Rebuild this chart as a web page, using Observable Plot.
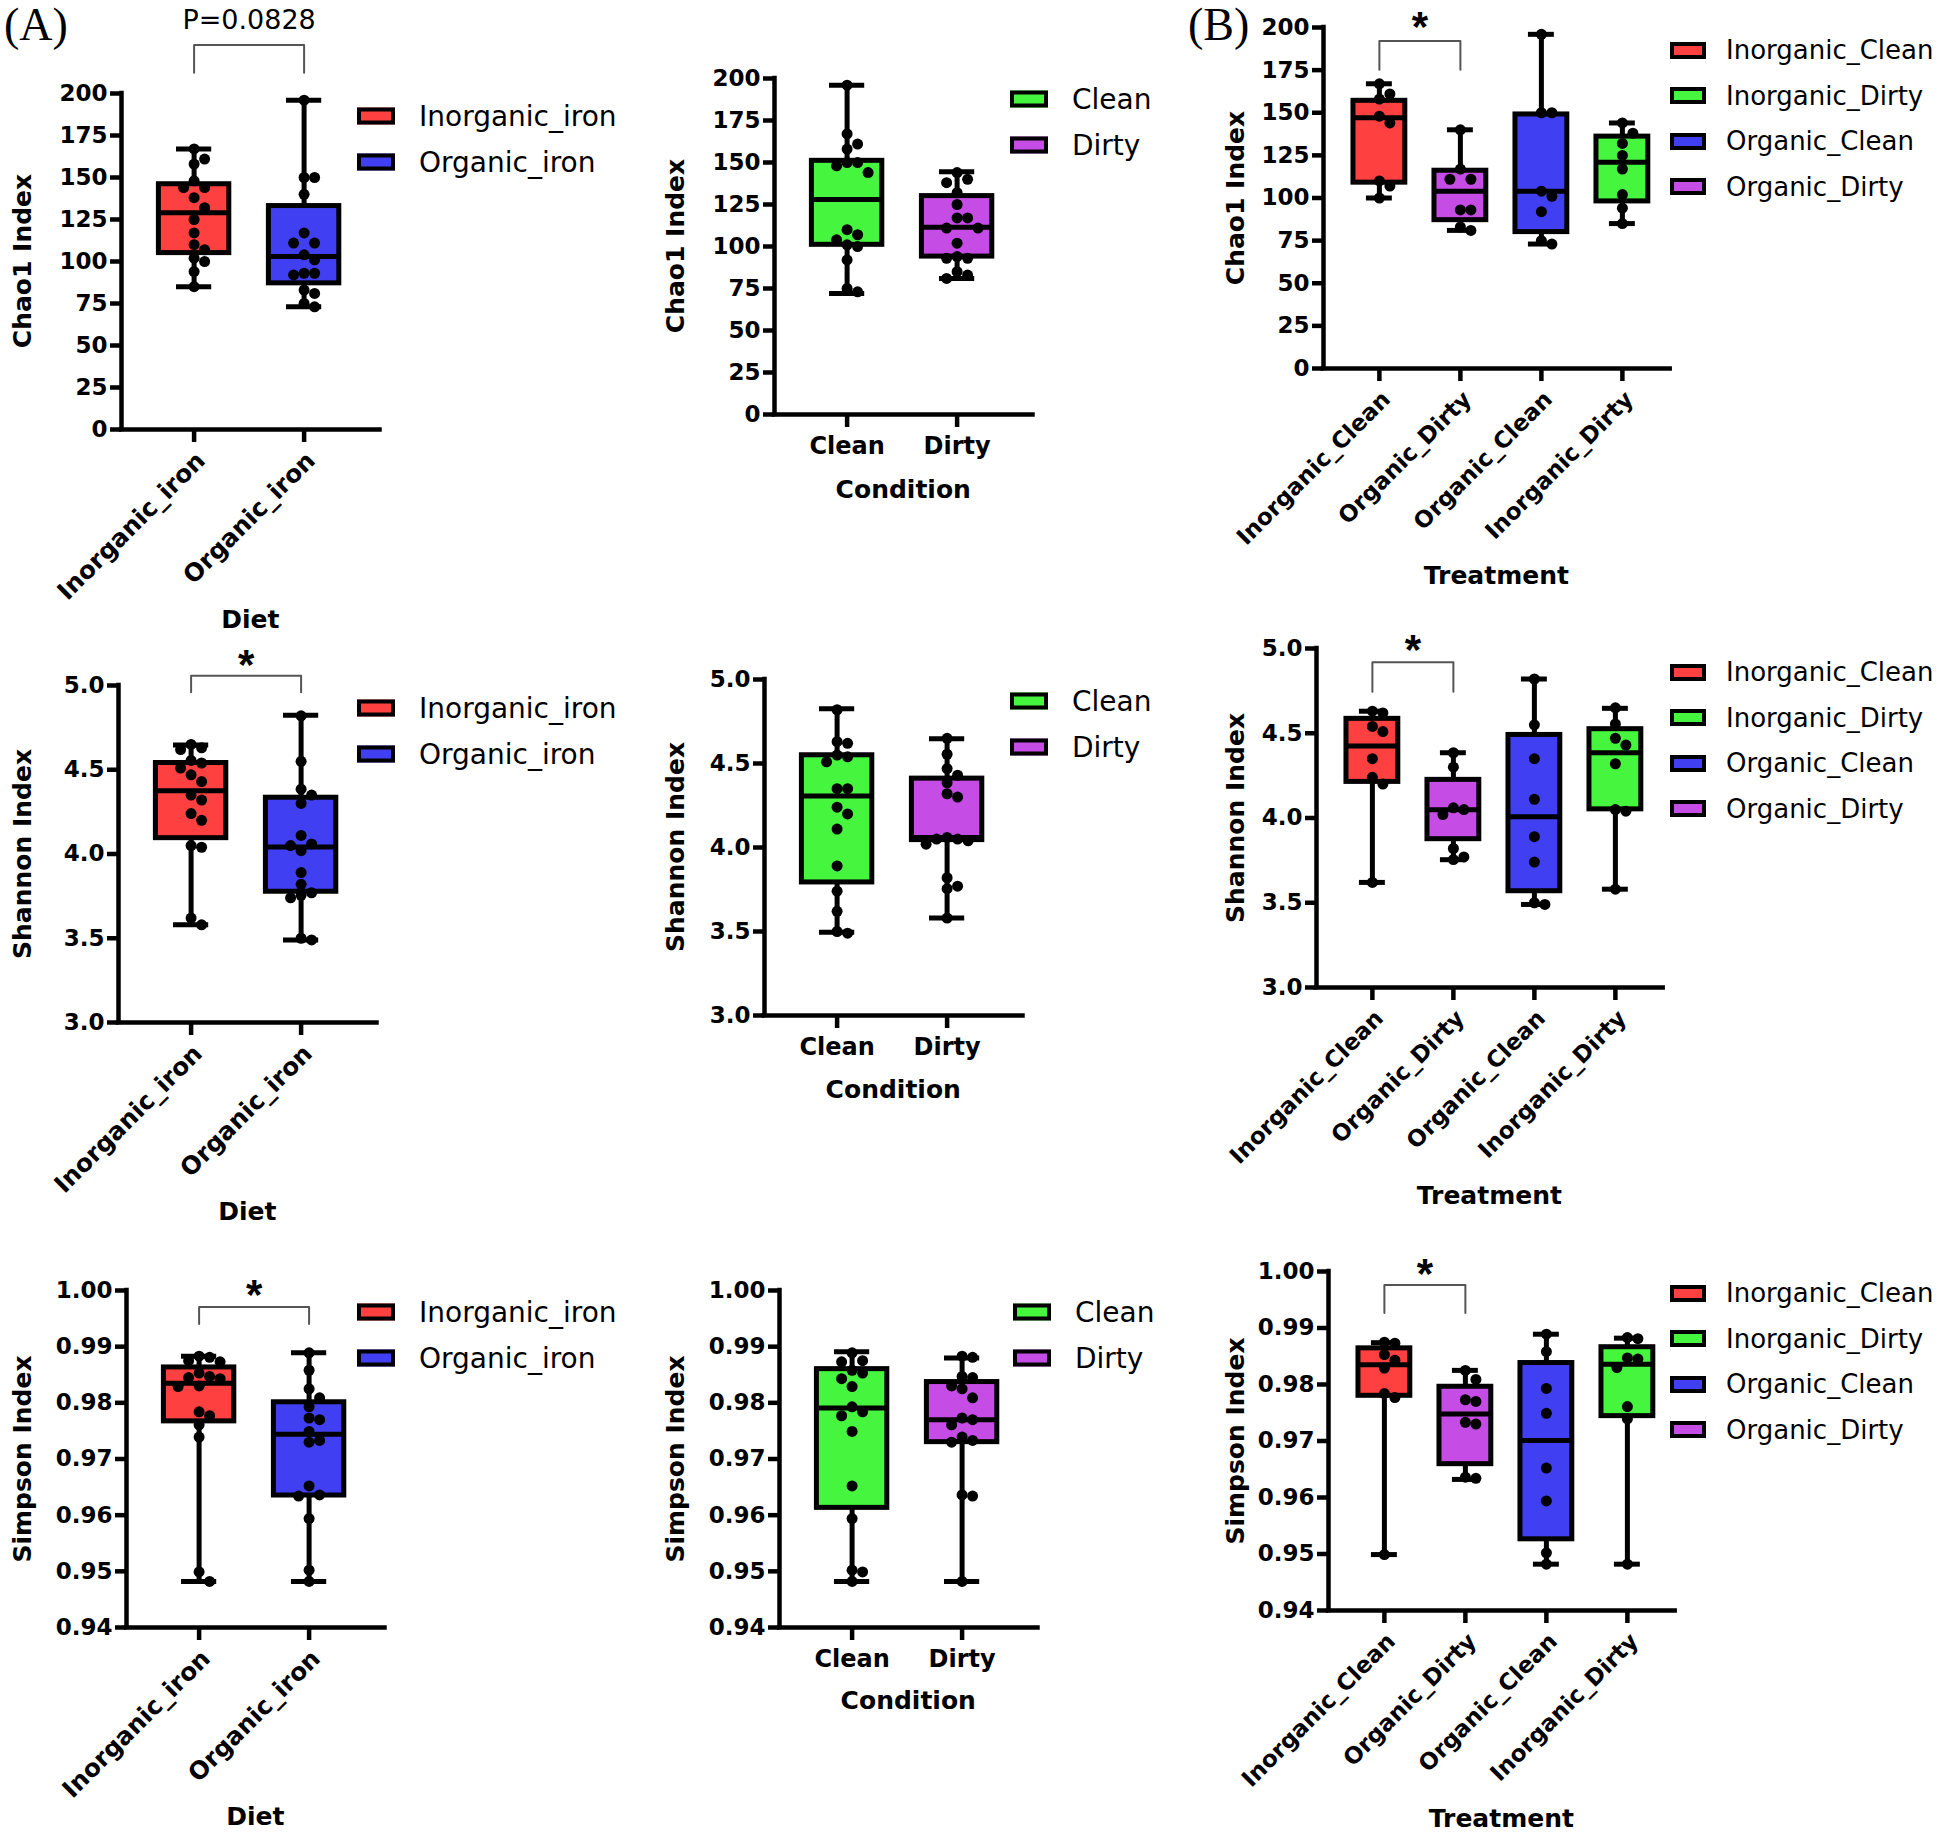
<!DOCTYPE html>
<html>
<head>
<meta charset="utf-8">
<script src="https://cdn.jsdelivr.net/npm/d3@7"></script>
<script src="https://cdn.jsdelivr.net/npm/@observablehq/plot@0.6"></script>
<style>
  body { margin: 0; background: #fff; }
  #fig { position: relative; width: 1950px; height: 1837px; overflow: hidden; background: #fff;
         font-family: "DejaVu Sans", "Liberation Sans", Arial, sans-serif; color: #000; }
  #fig svg { position: absolute; left: 0; top: 0; }
  .txt { position: absolute; white-space: nowrap; line-height: 1; }
  .ytitle { font-size: 25px; font-weight: bold; transform: translate(-50%, -50%) rotate(-90deg); }
  .xtitle { font-size: 25px; font-weight: bold; transform: translate(-50%, -50%); }
  .tag { font-family: "Liberation Serif", "Times New Roman", serif; font-size: 46px; }
  .leg { position: absolute; display: flex; align-items: center; transform: translateY(-50%); white-space: nowrap; }
  .sw { display: inline-block; height: 17px; border: 4px solid #000; box-sizing: border-box; }
</style>
</head>
<body>
<div id="fig"></div>
<script>
// ---- groups & colours ----
const dietGroups = ["Inorganic_iron", "Organic_iron"];
const conditionGroups = ["Clean", "Dirty"];
const treatmentGroups = ["Inorganic_Clean", "Organic_Dirty", "Organic_Clean", "Inorganic_Dirty"];
const treatmentLegend = ["Inorganic_Clean", "Inorganic_Dirty", "Organic_Clean", "Organic_Dirty"];
const groupColors = {
  Inorganic_iron: "#ff4040", Organic_iron: "#4040f2",
  Clean: "#46f53e", Dirty: "#c64ce6",
  Inorganic_Clean: "#ff4040", Inorganic_Dirty: "#46f53e",
  Organic_Clean: "#4040f2", Organic_Dirty: "#c64ce6"
};

// ---- axis ticks ----
const chao1Ticks = [0, 25, 50, 75, 100, 125, 150, 175, 200];
const shannonTicks = [3.0, 3.5, 4.0, 4.5, 5.0];
const simpsonTicks = [0.94, 0.95, 0.96, 0.97, 0.98, 0.99, 1.00];

// ---- per-sample values (eight animals per treatment) ----
const chao1InorgClean = [167, 161, 158, 148, 144, 110, 107, 100];
const chao1OrgDirty   = [140, 117, 111, 111, 93, 93, 83, 81];
const chao1OrgClean   = [196, 150, 150, 104, 101, 92, 75, 73];
const chao1InorgDirty = [144, 138, 132, 125, 117, 102, 94, 85];

const shannonInorgClean = [4.63, 4.62, 4.54, 4.51, 4.35, 4.24, 4.20, 3.62];
const shannonOrgDirty   = [4.385, 4.30, 4.06, 4.05, 4.02, 3.82, 3.77, 3.755];
const shannonOrgClean   = [4.82, 4.55, 4.35, 4.11, 3.89, 3.74, 3.50, 3.49];
const shannonInorgDirty = [4.65, 4.555, 4.47, 4.43, 4.32, 4.05, 4.04, 3.58];

const simpsonInorgClean = [0.9875, 0.9873, 0.9853, 0.9843, 0.9829, 0.9784, 0.9777, 0.9499];
const simpsonOrgDirty   = [0.9825, 0.9809, 0.9773, 0.9770, 0.9733, 0.9730, 0.9636, 0.9634];
const simpsonOrgClean   = [0.9889, 0.9858, 0.9793, 0.9749, 0.9652, 0.9594, 0.9502, 0.9482];
const simpsonInorgDirty = [0.9883, 0.9881, 0.9847, 0.9845, 0.9830, 0.9761, 0.9739, 0.9482];

// ---- box summaries: [min, Q1, median, Q3, max] ----
const chao1DietBoxes      = [[85, 105, 129, 146, 167], [73, 87, 103, 133, 196]];
const chao1ConditionBoxes = [[72, 101, 128, 151, 196], [81, 94, 111.5, 130, 144.5]];
const chao1TreatmentBoxes = [[100, 109, 147, 157, 167], [81, 87, 104, 116, 140], [73, 80, 104, 149, 196], [85, 98, 121, 136, 144]];

const shannonDietBoxes      = [[3.58, 4.094, 4.376, 4.54, 4.647], [3.49, 3.776, 4.042, 4.334, 4.824]];
const shannonConditionBoxes = [[3.495, 3.792, 4.307, 4.549, 4.826], [3.58, 4.044, 4.06, 4.41, 4.648]];
const shannonTreatmentBoxes = [[3.62, 4.213, 4.425, 4.585, 4.63], [3.754, 3.875, 4.049, 4.225, 4.385], [3.49, 3.568, 4.007, 4.49, 4.82], [3.58, 4.051, 4.385, 4.524, 4.647]];

const simpsonDietBoxes      = [[0.9482, 0.9767, 0.9835, 0.9863, 0.9883], [0.9482, 0.9635, 0.9744, 0.9801, 0.9889]];
const simpsonConditionBoxes = [[0.9482, 0.9613, 0.9791, 0.9860, 0.9891], [0.9482, 0.9730, 0.9770, 0.9837, 0.9880]];
const simpsonTreatmentBoxes = [[0.9499, 0.9780, 0.9835, 0.9864, 0.9874], [0.9632, 0.9659, 0.9748, 0.9796, 0.9825], [0.9482, 0.9526, 0.9701, 0.9838, 0.9889], [0.9482, 0.9744, 0.9836, 0.9866, 0.9882]];

// ---- significance annotations ----
const chao1DietTest = {label: "P=0.0828", star: false};
const starTest = {label: "*", star: true};

// ---- page layout ----
const fig = document.getElementById("fig");
const fontStack = '"DejaVu Sans", "Liberation Sans", Arial, sans-serif';

function addText(cls, text, x, y) {
  const el = document.createElement("div");
  el.className = "txt " + cls;
  el.textContent = text;
  el.style.left = x + "px";
  el.style.top = y + "px";
  fig.appendChild(el);
  return el;
}

// legend rows: swatch + name; the four-group legends run a little tighter
function addLegend(x, y, items) {
  const wide = items.length > 2;
  items.forEach((name, k) => {
    const row = document.createElement("div");
    row.className = "leg";
    row.style.left = x + "px";
    row.style.top = (y + k * 45.5) + "px";
    const sw = document.createElement("span");
    sw.className = "sw";
    sw.style.width = (wide ? 36 : 38) + "px";
    sw.style.marginRight = (wide ? 20 : 24) + "px";
    sw.style.background = groupColors[name];
    const lt = document.createElement("span");
    lt.style.fontSize = (wide ? 26 : 28) + "px";
    lt.textContent = name;
    row.append(sw, lt);
    fig.appendChild(row);
  });
}

// spread tied / close points sideways so each stays visible
function swarm(groupValues, pxPerUnit, spacing) {
  const out = [];
  groupValues.forEach((vals, gi) => {
    const placed = [];
    vals.slice().sort((a, b) => b - a).forEach(v => {
      const py = v * pxPerUnit;
      let off = 0;
      for (let k = 0; k < 40; k++) {
        const cand = (k % 2 ? 1 : -1) * Math.ceil(k / 2) * 10.5;
        if (placed.every(q => Math.hypot(q.px - cand, q.py - py) >= 10.5)) { off = cand; break; }
      }
      placed.push({px: off, py});
      out.push({x: gi + off / spacing, y: v});
    });
  });
  return out;
}

function drawPanel(p) {
  const n = p.groups.length;
  const spacing = n === 2 ? 110 : 81;
  const xDomain = n === 2 ? [-0.66, 1.69] : [-0.69, 3.59];
  const frameW = (xDomain[1] - xDomain[0]) * spacing;
  const yDomain = [p.ticks[0], p.ticks[p.ticks.length - 1]];
  const pxPerUnit = (p.bottom - p.top) / (yDomain[1] - yDomain[0]);
  const boxHW = 0.32, capHW = 0.16, sw = 5;

  const boxes = p.groups.map((g, i) => {
    const [lo, q1, med, q3, hi] = p.boxes[i];
    return {i, g, lo, q1, med, q3, hi};
  });
  const dots = swarm(p.points, pxPerUnit, spacing);

  const marks = [
    Plot.ruleX(boxes, {x: "i", y1: "lo", y2: "hi", strokeWidth: sw}),
    Plot.ruleY(boxes, {y: "lo", x1: d => d.i - capHW, x2: d => d.i + capHW, strokeWidth: sw}),
    Plot.ruleY(boxes, {y: "hi", x1: d => d.i - capHW, x2: d => d.i + capHW, strokeWidth: sw}),
    Plot.rect(boxes, {x1: d => d.i - boxHW, x2: d => d.i + boxHW, y1: "q1", y2: "q3",
                      fill: d => groupColors[d.g], stroke: "#000", strokeWidth: sw}),
    Plot.ruleY(boxes, {y: "med", x1: d => d.i - boxHW, x2: d => d.i + boxHW, strokeWidth: sw}),
    Plot.dot(dots, {x: "x", y: "y", r: 5.5, fill: "#000", stroke: "none"}),
    Plot.ruleX([xDomain[0]], {strokeWidth: 4.5, strokeLinecap: "square"}),
    Plot.ruleY([yDomain[0]], {strokeWidth: 4.5, strokeLinecap: "square"}),
    Plot.axisY({ticks: p.ticks, tickFormat: p.fmt, tickSize: 11, tickPadding: 3, strokeWidth: 4.5,
                fontSize: 23, fontWeight: "bold"}),
    Plot.axisX({ticks: d3.range(n), tickFormat: () => "", tickSize: 13, strokeWidth: 4.5}),
    p.rotate
      ? Plot.text(p.groups, {x: (d, i) => i, y: yDomain[0], text: d => d, rotate: -45,
                             textAnchor: "end", lineAnchor: "middle", dx: 7, dy: 27,
                             fontSize: n === 2 ? 24.5 : 23, fontWeight: "bold"})
      : Plot.text(p.groups, {x: (d, i) => i, y: yDomain[0], text: d => d,
                             textAnchor: "middle", lineAnchor: "middle", dy: 32,
                             fontSize: 24, fontWeight: "bold"})
  ];

  if (p.bracket) {
    const b = p.bracket;
    const path = [
      {x: b.from, y: b.drop}, {x: b.from, y: b.top},
      {x: b.to, y: b.top}, {x: b.to, y: b.drop}
    ];
    marks.push(Plot.line(path, {x: "x", y: "y", stroke: "#555", strokeWidth: 2}));
    const fs = b.test.star ? 42 : 27;
    marks.push(Plot.text([b.test], {
      x: (b.from + b.to) / 2, y: b.labelY, text: d => d.label,
      fontSize: fs, fontWeight: b.test.star ? "bold" : "normal",
      fontFamily: b.test.star ? '"Liberation Sans", Arial, sans-serif' : fontStack,
      lineAnchor: "bottom", dy: b.test.star ? fs * 0.57 : fs * 0.37
    }));
  }

  const svg = Plot.plot({
    width: 1950, height: 1837,
    marginLeft: p.left, marginRight: 1950 - (p.left + frameW),
    marginTop: p.top, marginBottom: 1837 - p.bottom,
    x: {domain: xDomain, axis: null},
    y: {domain: yDomain, axis: null},
    color: {type: "identity"},
    style: {background: "transparent", overflow: "visible", fontFamily: fontStack,
            fontSize: "23px", fontWeight: "bold", color: "#000", maxWidth: "none"},
    marks
  });
  fig.appendChild(svg);

  const cx = p.left + frameW / 2;
  addText("ytitle", p.yTitle, p.yTitleX, (p.top + p.bottom) / 2);
  addText("xtitle", p.xTitle, cx, p.xTitleY);
  addLegend(p.legendX, p.legendY, p.legend);
}

const intFmt = d3.format("d");
const oneFmt = d3.format(".1f");
const twoFmt = d3.format(".2f");

const panels = [
  // Chao1
  {groups: dietGroups, boxes: chao1DietBoxes,
   points: [chao1InorgClean.concat(chao1InorgDirty), chao1OrgClean.concat(chao1OrgDirty)],
   ticks: chao1Ticks, fmt: intFmt, rotate: true, left: 121, top: 93, bottom: 429,
   yTitle: "Chao1 Index", yTitleX: 22, xTitle: "Diet", xTitleY: 619,
   legend: dietGroups, legendX: 357, legendY: 116,
   bracket: {from: 0, to: 1, top: 228.8, drop: 212.3, labelY: 244.6, test: chao1DietTest}},
  {groups: conditionGroups, boxes: chao1ConditionBoxes,
   points: [chao1InorgClean.concat(chao1OrgClean), chao1InorgDirty.concat(chao1OrgDirty)],
   ticks: chao1Ticks, fmt: intFmt, rotate: false, left: 774, top: 78, bottom: 414,
   yTitle: "Chao1 Index", yTitleX: 675, xTitle: "Condition", xTitleY: 489,
   legend: conditionGroups, legendX: 1010, legendY: 99},
  {groups: treatmentGroups, boxes: chao1TreatmentBoxes,
   points: [chao1InorgClean, chao1OrgDirty, chao1OrgClean, chao1InorgDirty],
   ticks: chao1Ticks, fmt: intFmt, rotate: true, left: 1323, top: 27, bottom: 368,
   yTitle: "Chao1 Index", yTitleX: 1235, xTitle: "Treatment", xTitleY: 575,
   legend: treatmentLegend, legendX: 1670, legendY: 50,
   bracket: {from: 0, to: 1, top: 192.1, drop: 175.2, labelY: 206, test: starTest}},
  // Shannon
  {groups: dietGroups, boxes: shannonDietBoxes,
   points: [shannonInorgClean.concat(shannonInorgDirty), shannonOrgClean.concat(shannonOrgDirty)],
   ticks: shannonTicks, fmt: oneFmt, rotate: true, left: 118, top: 685, bottom: 1022,
   yTitle: "Shannon Index", yTitleX: 22, xTitle: "Diet", xTitleY: 1211,
   legend: dietGroups, legendX: 357, legendY: 708,
   bracket: {from: 0, to: 1, top: 5.058, drop: 4.96, labelY: 5.183, test: starTest}},
  {groups: conditionGroups, boxes: shannonConditionBoxes,
   points: [shannonInorgClean.concat(shannonOrgClean), shannonInorgDirty.concat(shannonOrgDirty)],
   ticks: shannonTicks, fmt: oneFmt, rotate: false, left: 764, top: 679, bottom: 1015,
   yTitle: "Shannon Index", yTitleX: 675, xTitle: "Condition", xTitleY: 1089,
   legend: conditionGroups, legendX: 1010, legendY: 701},
  {groups: treatmentGroups, boxes: shannonTreatmentBoxes,
   points: [shannonInorgClean, shannonOrgDirty, shannonOrgClean, shannonInorgDirty],
   ticks: shannonTicks, fmt: oneFmt, rotate: true, left: 1316, top: 648, bottom: 987,
   yTitle: "Shannon Index", yTitleX: 1235, xTitle: "Treatment", xTitleY: 1195,
   legend: treatmentLegend, legendX: 1670, legendY: 672,
   bracket: {from: 0, to: 1, top: 4.919, drop: 4.745, labelY: 5.049, test: starTest}},
  // Simpson
  {groups: dietGroups, boxes: simpsonDietBoxes,
   points: [simpsonInorgClean.concat(simpsonInorgDirty), simpsonOrgClean.concat(simpsonOrgDirty)],
   ticks: simpsonTicks, fmt: twoFmt, rotate: true, left: 126, top: 1290, bottom: 1627,
   yTitle: "Simpson Index", yTitleX: 22, xTitle: "Diet", xTitleY: 1816,
   legend: dietGroups, legendX: 357, legendY: 1312,
   bracket: {from: 0, to: 1, top: 0.99705, drop: 0.99404, labelY: 1.00105, test: starTest}},
  {groups: conditionGroups, boxes: simpsonConditionBoxes,
   points: [simpsonInorgClean.concat(simpsonOrgClean), simpsonInorgDirty.concat(simpsonOrgDirty)],
   ticks: simpsonTicks, fmt: twoFmt, rotate: false, left: 779, top: 1290, bottom: 1627,
   yTitle: "Simpson Index", yTitleX: 675, xTitle: "Condition", xTitleY: 1700,
   legend: conditionGroups, legendX: 1013, legendY: 1312},
  {groups: treatmentGroups, boxes: simpsonTreatmentBoxes,
   points: [simpsonInorgClean, simpsonOrgDirty, simpsonOrgClean, simpsonInorgDirty],
   ticks: simpsonTicks, fmt: twoFmt, rotate: true, left: 1328, top: 1271, bottom: 1610,
   yTitle: "Simpson Index", yTitleX: 1235, xTitle: "Treatment", xTitleY: 1818,
   legend: treatmentLegend, legendX: 1670, legendY: 1293,
   bracket: {from: 0, to: 1, top: 0.99761, drop: 0.99264, labelY: 1.00136, test: starTest}}
];

panels.forEach(drawPanel);

addText("tag", "(A)", 4, 2);
addText("tag", "(B)", 1188, 2);
</script>
</body>
</html>
